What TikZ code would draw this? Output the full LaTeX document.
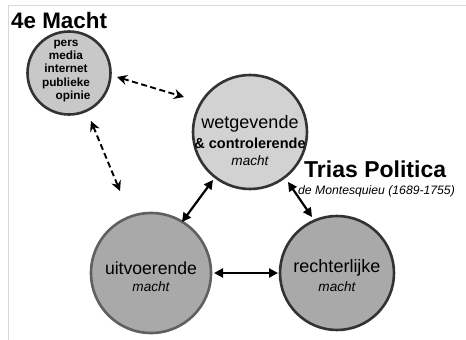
\documentclass[tikz,border=0pt]{standalone}
\usepackage{fontspec}
\setmainfont{Liberation Sans}
\usetikzlibrary{arrows.meta}
\definecolor{lightfill}{HTML}{D2D2D2}
\definecolor{smallfill}{HTML}{C8C8C8}
\definecolor{darkfill}{HTML}{A9A9A9}
\definecolor{rimdark}{HTML}{333333}
\definecolor{rimmid}{HTML}{606060}
\definecolor{framegray}{HTML}{D8D8D8}
\tikzset{
  power/.style={circle, draw=rimdark, line width=2.6pt, inner sep=0pt, align=center, text=black},
  twoway/.style={{Triangle[length=9pt,width=9pt]}-{Triangle[length=9pt,width=9pt]}, line width=2.2pt, black, shorten >=0pt, shorten <=0pt},
  dashway/.style={twoway, line width=1.9pt, dash pattern=on 6pt off 3.5pt, {Stealth[length=10pt,width=10pt]}-{Stealth[length=10pt,width=10pt]}},
  titletext/.style={font=\bfseries, inner sep=0pt, anchor=west}
}
\begin{document}
\begin{tikzpicture}[x=1pt,y=-1pt]
\useasboundingbox (0,0) rectangle (466,340);
\fill[white] (0,0) rectangle (466,340);
% frame lines
\draw[framegray, line width=1pt] (8,340) -- (8,5.5) -- (466,5.5);

% circles
\node[power, fill=smallfill, minimum size=83pt] (media) at (69,73) {};
\node[power, fill=lightfill, minimum size=114pt] (wet) at (250,132) {};
\node[power, fill=darkfill, draw=rimmid, minimum size=120pt] (uit) at (151,273) {};
\node[power, fill=darkfill, minimum size=114pt] (recht) at (337,273) {};

% text in circles
\node[align=center, inner sep=0pt, font=\bfseries\fontsize{11.8}{13.2}\selectfont] (mtext) at (66,71)
  {pers\\media\\internet\\publieke\\\hspace*{14pt}opinie};
\node[inner sep=0pt, font=\fontsize{18}{20}\selectfont] (w1) at (250,124) {wetgevende};
\node[inner sep=0pt, font=\bfseries\fontsize{14.5}{17}\selectfont] (w2) at (250,143) {\& controlerende};
\node[inner sep=0pt, font=\itshape\fontsize{13.6}{16}\selectfont] (w3) at (250,161) {macht};
\node[inner sep=0pt, font=\fontsize{17.6}{20}\selectfont] (u1) at (151,268) {uitvoerende};
\node[inner sep=0pt, font=\itshape\fontsize{13.6}{16}\selectfont] (u2) at (151,287) {macht};
\node[inner sep=0pt, font=\fontsize{18}{20}\selectfont] (r1) at (337,268) {rechterlijke};
\node[inner sep=0pt, font=\itshape\fontsize{13.6}{16}\selectfont] (r2) at (337,287) {macht};

% titles
\node[titletext, font=\bfseries\fontsize{22.4}{26}\selectfont] (vierde) at (11,20) {4e Macht};
\node[titletext, font=\bfseries\fontsize{23}{28}\selectfont] (trias) at (304,169) {Trias Politica};
\node[inner sep=0pt, anchor=west, font=\itshape\fontsize{12.2}{14}\selectfont] (montes) at (298,191) {de Montesquieu (1689-1755)};

% connectors
\coordinate (d1a) at (117,77);
\coordinate (d1b) at (184,97);
\coordinate (d2a) at (91,121);
\coordinate (d2b) at (120,191);
\draw[dashway] (d1a) -- (d1b);
\draw[dashway] (d2a) -- (d2b);
\coordinate (s1a) at (182,222);
\coordinate (s1b) at (213,180);
\coordinate (s2a) at (288,182);
\coordinate (s2b) at (312,217);
\coordinate (s3a) at (214,273);
\coordinate (s3b) at (278,273);
\draw[twoway] (s1a) -- (s1b);
\draw[twoway] (s2a) -- (s2b);
\draw[twoway] (s3a) -- (s3b);
\end{tikzpicture}
\end{document}
